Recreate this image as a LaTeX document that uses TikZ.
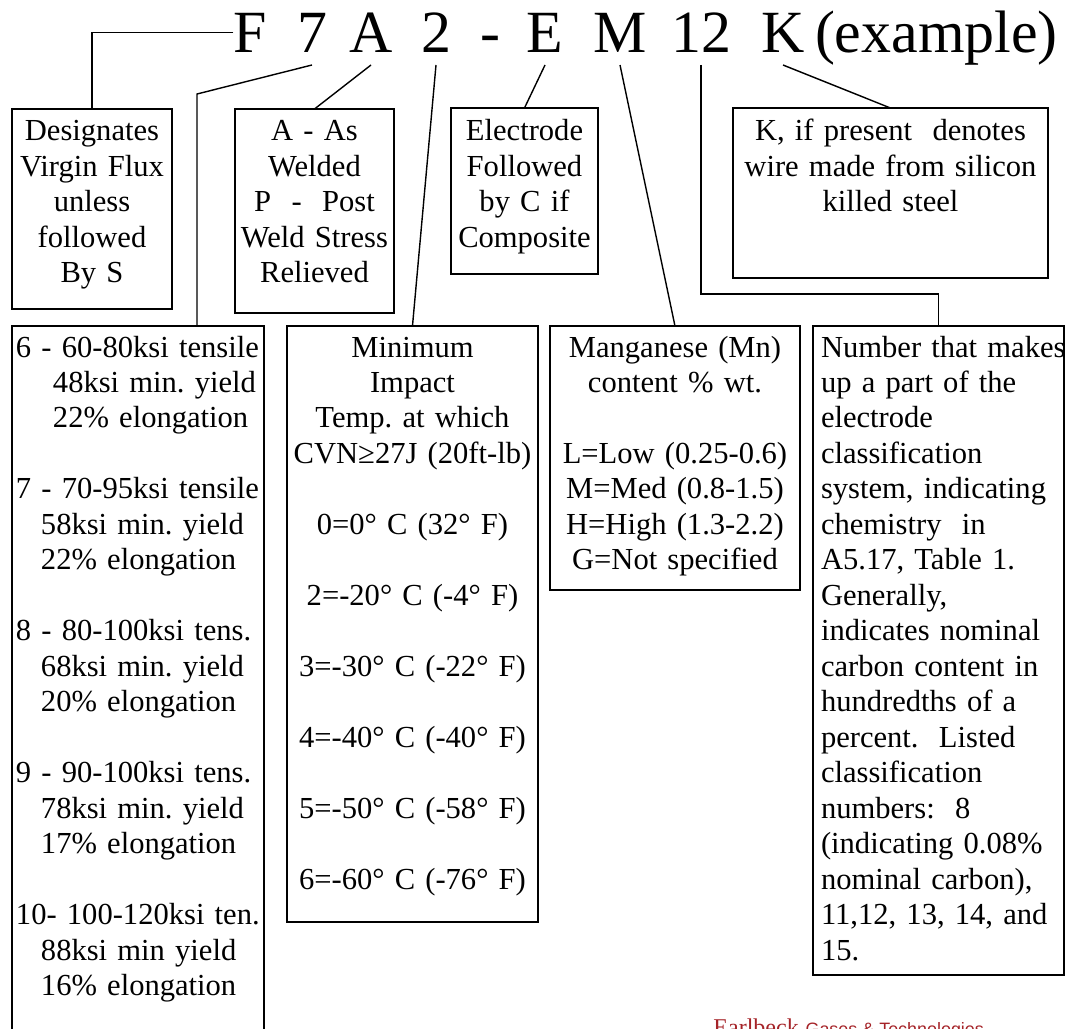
\documentclass[tikz,border=0pt]{standalone}
\usepackage{fontspec}
\setmainfont{Liberation Serif}
\setsansfont{Liberation Sans}
\usepackage{xcolor}
\usepackage{tikz}
\usetikzlibrary{positioning}

\definecolor{earlred}{RGB}{165,35,40}
\frenchspacing

\begin{document}
\begin{tikzpicture}[x=0.02cm, y=-0.02cm,
    title/.style={font=\fontsize{34.1}{40}\selectfont, inner sep=0pt, outer xsep=0pt, outer ysep=0.26cm, anchor=base},
    box/.style={draw, line width=0.9pt, anchor=north west, inner sep=0pt, outer sep=0pt, font=\fontsize{17.4}{20.2}\selectfont},
    link/.style={line width=0.8pt}]

        \useasboundingbox (0,0) rectangle (1071,1028);

        % the code itself
        \node[title] (F) at (250,52) {F};
        \node[title] (N7) at (312,52) {7};
        \node[title] (A) at (371,52) {A};
        \node[title] (N2) at (436,52) {2};
        \node[title] (H) at (490,52) {-};
        \node[title] (E) at (545,52) {E};
        \node[title] (M) at (620,52) {M};
        \node[title] (N12) at (701,52) {12};
        \node[title] (K) at (783,52) {K};
        \node[title, anchor=base west] (X) at (815,52) {(example)};

        % top row
        \node[box, text width=3.2cm, align=center, text height=0.64cm, text depth=3.36cm] (BF) at (12,109)
            {Designates\\ Virgin Flux\\ unless\\ followed\\ By S};
        \node[box, text width=3.18cm, align=center, text height=0.64cm, text depth=3.44cm] (BA) at (235,109)
            {A - As\\ Welded\\ P\ \ -\ \ Post\\ Weld Stress\\ Relieved};
        \node[box, text width=2.94cm, align=center, text height=0.66cm, text depth=2.66cm] (BE) at (451,108)
            {Electrode\\ Followed\\ by C if\\ Composite};
        \node[box, text width=6.3cm, align=center, text height=0.66cm, text depth=2.74cm] (BK) at (733,108)
            {K, if present\ \ denotes\\ wire made from silicon\\ killed steel};

        % bottom row
        \node[box, text width=4.88cm, inner xsep=0.08cm, align=left, text height=0.62cm, text depth=13.76cm] (B7) at (12,326)
            {6 - 60-80ksi tensile\\
             \hspace*{0.74cm}48ksi min. yield\\
             \hspace*{0.74cm}22\% elongation\\[20.2pt]
             7 - 70-95ksi tensile\\
             \hspace*{0.5cm}58ksi min. yield\\
             \hspace*{0.5cm}22\% elongation\\[20.2pt]
             8 - 80-100ksi tens.\\
             \hspace*{0.5cm}68ksi min. yield\\
             \hspace*{0.5cm}20\% elongation\\[20.2pt]
             9 - 90-100ksi tens.\\
             \hspace*{0.5cm}78ksi min. yield\\
             \hspace*{0.5cm}17\% elongation\\[20.2pt]
             10- 100-120ksi ten.\\
             \hspace*{0.5cm}88ksi min yield\\
             \hspace*{0.5cm}16\% elongation};
        \node[box, text width=5.02cm, align=center, text height=0.62cm, text depth=11.3cm] (B2) at (287,326)
            {Minimum\\ Impact\\ Temp. at which\\ CVN≥27J (20ft-lb)\\[20.2pt]
             0=0° C (32° F)\\[20.2pt]
             2=-20° C (-4° F)\\[20.2pt]
             3=-30° C (-22° F)\\[20.2pt]
             4=-40° C (-40° F)\\[20.2pt]
             5=-50° C (-58° F)\\[20.2pt]
             6=-60° C (-76° F)};
        \node[box, text width=5.0cm, align=center, text height=0.62cm, text depth=4.66cm] (BM) at (550,326)
            {Manganese (Mn)\\ content \% wt.\\[20.2pt]
             L=Low (0.25-0.6)\\ M=Med (0.8-1.5)\\ H=High (1.3-2.2)\\ G=Not specified};
        \node[box, text width=4.7cm, inner xsep=0.16cm, align=left, text height=0.62cm, text depth=12.36cm] (B12) at (813,326)
            {\makebox[4.7cm][l]{Number that makes}\\ up a part of the\\ electrode\\ classification\\
             system, indicating\\ chemistry\ \ in\\ A5.17, Table 1.\\ Generally,\\ indicates nominal\\
             carbon content in\\ hundredths of a\\ percent.\ \ Listed\\ classification\\ numbers:\ \ 8\\
             (indicating 0.08\%\\ nominal carbon),\\ 11,12, 13, 14, and\\ 15.};

        % leaders
        \coordinate (k7) at (197,94);
        \coordinate (k12) at (701,294);

        \draw[link] (F.west) -| (BF.north);
        \draw[link] (N7.south) -- (k7) -- (k7 |- B7.north);
        \draw[link] (A.south) -- (BA.north);
        \draw[link] (N2.south) -- (B2.north);
        \draw[link] (E.south) -- (BE.north);
        \draw[link] (M.south) -- (BM.north);
        \draw[link] (N12.south) -- (k12) -| (B12.north);
        \draw[link] (K.south) -- (BK.north);

        % logo, cut by the page edge
        \node[anchor=base west, inner sep=0pt, text=earlred, font=\fontsize{13.7}{16}\selectfont] (earl) at (713,1035) {Earlbeck};
        \node[base right=0.12cm of earl, inner sep=0pt, text=earlred, font=\sffamily\fontsize{10.2}{12}\selectfont] (gases) {Gases \& Technologies};

    \end{tikzpicture}
\end{document}
